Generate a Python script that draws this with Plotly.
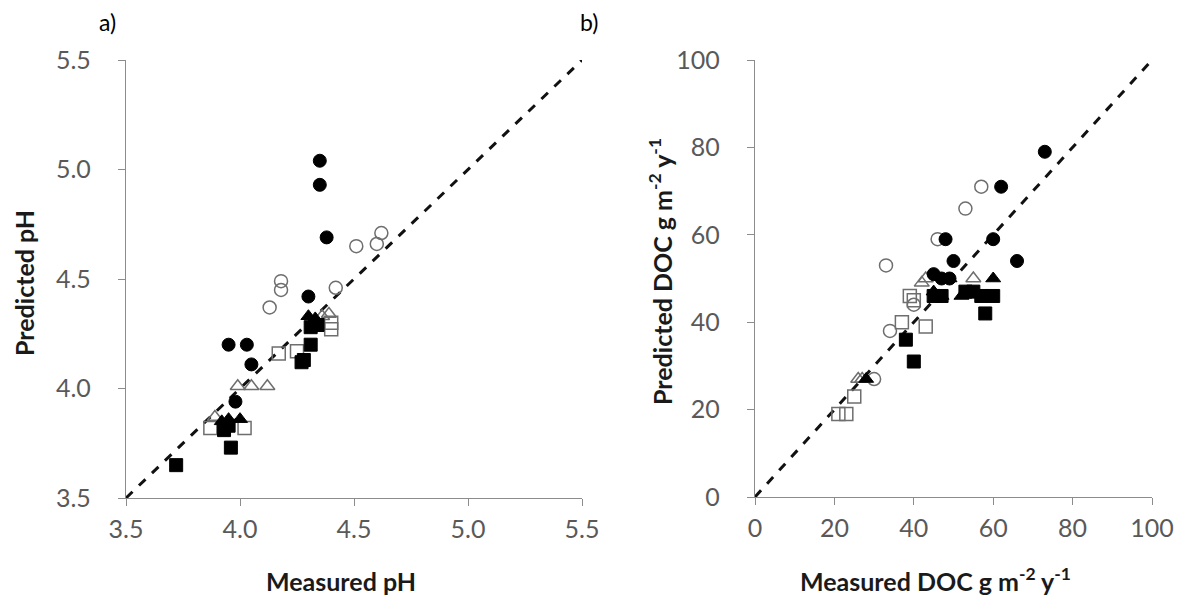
import plotly.graph_objects as go

# ---------- data: panel a (pH) ----------
a_fc_x = [4.35, 4.35, 4.38, 4.30, 3.95, 4.03, 4.05, 3.98]
a_fc_y = [5.04, 4.93, 4.69, 4.42, 4.20, 4.20, 4.11, 3.94]
a_oc_x = [4.62, 4.60, 4.51, 4.42, 4.18, 4.18, 4.13]
a_oc_y = [4.71, 4.66, 4.65, 4.46, 4.49, 4.45, 4.37]
a_ft_x = [3.92, 3.95, 4.00, 4.30, 4.33]
a_ft_y = [3.85, 3.86, 3.86, 4.33, 4.32]
a_ot_x = [3.99, 4.05, 4.12, 4.36, 4.39, 3.89]
a_ot_y = [4.01, 4.01, 4.01, 4.33, 4.34, 3.87]
a_fs_x = [3.72, 3.96, 3.93, 3.95, 4.27, 4.28, 4.31, 4.31, 4.34]
a_fs_y = [3.65, 3.73, 3.81, 3.83, 4.12, 4.13, 4.20, 4.28, 4.29]
a_os_x = [4.17, 4.25, 4.40, 4.40, 4.02, 3.87]
a_os_y = [4.16, 4.17, 4.27, 4.30, 3.82, 3.82]

# ---------- data: panel b (DOC) ----------
b_fc_x = [73, 62, 60, 48, 50, 66, 45, 47, 49]
b_fc_y = [79, 71, 59, 59, 54, 54, 51, 50, 50]
b_oc_x = [57, 53, 46, 33, 40, 34, 30]
b_oc_y = [71, 66, 59, 53, 44, 38, 27]
b_ft_x = [60, 52, 45, 49, 47, 28]
b_ft_y = [50, 46, 47, 50, 46, 27]
b_ot_x = [43, 55, 26, 27, 42]
b_ot_y = [50, 50, 27, 27, 49]
b_fs_x = [38, 40, 58, 60, 47, 45, 55, 57, 53]
b_fs_y = [36, 31, 42, 46, 46, 46, 47, 46, 47]
b_os_x = [40, 37, 43, 25, 21, 23, 39]
b_os_y = [45, 40, 39, 23, 19, 19, 46]

a_ticks = [3.5, 4.0, 4.5, 5.0, 5.5]
a_ticktext = ["3.5", "4.0", "4.5", "5.0", "5.5"]
b_ticks = [0, 20, 40, 60, 80, 100]

OFF = 8  # page body margin
W, H = 1197 - 2 * OFF, 603 - 2 * OFF
def px_x(p): return (p - OFF) / W
def px_y(p): return 1 - (p - OFF) / H

fig = go.Figure()

def add_series(xs, ys, symbol, filled, xa, ya):
    if filled:
        marker = dict(symbol=symbol, size=13, color="black",
                      line=dict(color="black", width=1))
    else:
        marker = dict(symbol=symbol + "-open", size=13, color="#6e6e6e",
                      line=dict(color="#6e6e6e", width=1.5))
    fig.add_trace(go.Scatter(x=xs, y=ys, mode="markers", marker=marker,
                             xaxis=xa, yaxis=ya, showlegend=False,
                             cliponaxis=False))

# 1:1 lines
fig.add_trace(go.Scatter(x=[3.5, 5.5], y=[3.5, 5.5], mode="lines",
                         line=dict(color="#111", width=3, dash="dash"),
                         xaxis="x", yaxis="y", showlegend=False, cliponaxis=False))
fig.add_trace(go.Scatter(x=[0, 100], y=[0, 100], mode="lines",
                         line=dict(color="#111", width=3, dash="dash"),
                         xaxis="x2", yaxis="y2", showlegend=False, cliponaxis=False))

for xs, ys, sym, f in [(a_os_x, a_os_y, "square", False), (a_ot_x, a_ot_y, "triangle-up", False),
                       (a_oc_x, a_oc_y, "circle", False), (a_fs_x, a_fs_y, "square", True),
                       (a_ft_x, a_ft_y, "triangle-up", True), (a_fc_x, a_fc_y, "circle", True)]:
    add_series(xs, ys, sym, f, "x", "y")
for xs, ys, sym, f in [(b_os_x, b_os_y, "square", False), (b_ot_x, b_ot_y, "triangle-up", False),
                       (b_oc_x, b_oc_y, "circle", False), (b_fs_x, b_fs_y, "square", True),
                       (b_ft_x, b_ft_y, "triangle-up", True), (b_fc_x, b_fc_y, "circle", True)]:
    add_series(xs, ys, sym, f, "x2", "y2")

tickfont = dict(family="Lato, Open Sans, sans-serif", size=25, color="#595959")
axis_common = dict(showgrid=False, zeroline=False, showline=True, linecolor="#8c8c8c",
                   linewidth=1.3, ticks="outside", ticklen=7, tickcolor="#8c8c8c",
                   tickwidth=1.3, tickfont=tickfont, automargin=False)

fig.update_layout(
    template="none",
    width=W, height=H, margin=dict(l=0, r=0, t=0, b=0, pad=0),
    paper_bgcolor="white", plot_bgcolor="white",
    xaxis=dict(domain=[px_x(126), px_x(582)], range=[3.5, 5.5], tickvals=a_ticks,
               ticktext=a_ticktext, anchor="y", ticklabelstandoff=2, **axis_common),
    yaxis=dict(domain=[px_y(498), px_y(60)], range=[3.5, 5.5], tickvals=a_ticks,
               ticktext=a_ticktext, anchor="x", ticklabelstandoff=22, **axis_common),
    xaxis2=dict(domain=[px_x(755), px_x(1152)], range=[0, 100], tickvals=b_ticks,
                anchor="y2", ticklabelstandoff=2, **axis_common),
    yaxis2=dict(domain=[px_y(497), px_y(60)], range=[0, 100], tickvals=b_ticks,
                anchor="x2", ticklabelstandoff=22, **axis_common),
)

title_font = dict(family="Lato, Open Sans, sans-serif", size=25, color="#1a1a1a")
ann = [
    dict(text="<b>Measured pH</b>", x=px_x(341), y=px_y(581)),
    dict(text="<b>Predicted pH</b>", x=px_x(24), y=px_y(283), textangle=-90),
    dict(text="<b>Measured DOC g m<sup>-2</sup> y<sup>-1</sup></b>", x=px_x(936), y=px_y(579)),
    dict(text="<b>Predicted DOC g m<sup>-2</sup> y<sup>-1</sup></b>", x=px_x(660), y=px_y(272), textangle=-90),
]
for a in ann:
    fig.add_annotation(xref="paper", yref="paper", showarrow=False, font=title_font,
                       xanchor="center", yanchor="middle", **a)
lab_font = dict(family="Lato, Open Sans, sans-serif", size=23, color="black")
fig.add_annotation(text="a)", x=px_x(107), y=px_y(22), xref="paper", yref="paper",
                   xanchor="center", yanchor="middle", showarrow=False, font=lab_font)
fig.add_annotation(text="b)", x=px_x(589), y=px_y(22), xref="paper", yref="paper",
                   xanchor="center", yanchor="middle", showarrow=False, font=lab_font)

fig.write_html("out.html")
